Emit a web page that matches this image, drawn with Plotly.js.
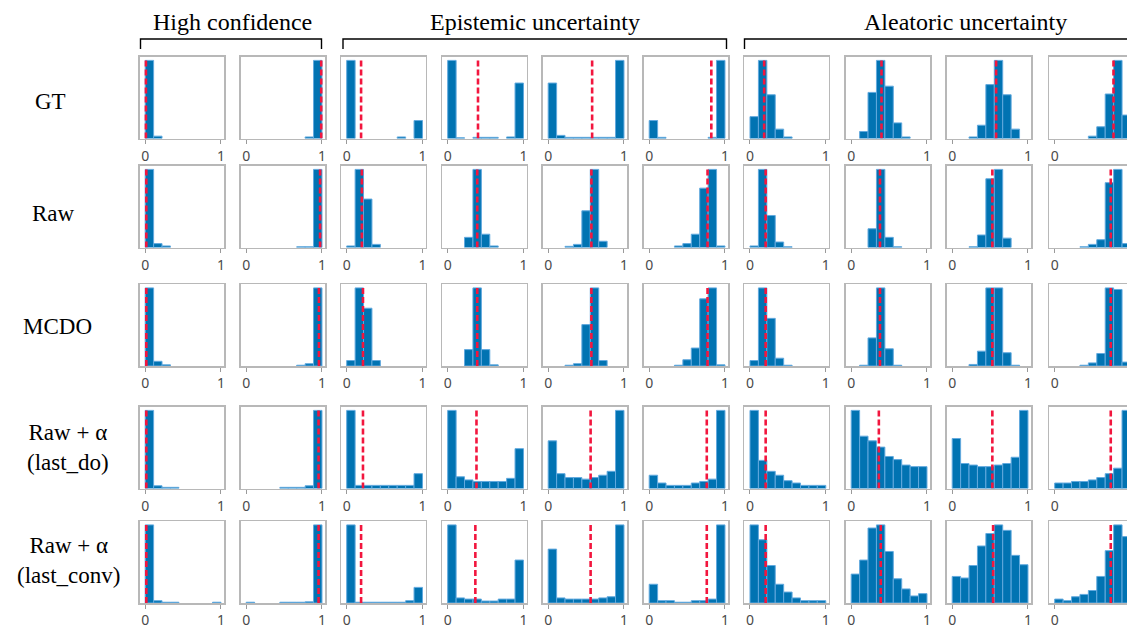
<!DOCTYPE html>
<html><head><meta charset="utf-8">
<script src="https://cdn.plot.ly/plotly-3.0.1.min.js"></script>
<style>html,body{margin:0;padding:0;overflow:hidden;background:#fff}#chart{width:1140px;height:628px}</style>
</head><body><div id="chart"></div>
<script>
// ---- data ----
const binCenters = [0.0556, 0.1667, 0.2778, 0.3889, 0.5, 0.6111, 0.7222, 0.8333, 0.9444];
const tickVals = [0, 1];
const tickLabels = ['0', '1'];
const rowLabels = ['GT', 'Raw', 'MCDO', 'Raw + α<br>(last_do)', 'Raw + α<br>(last_conv)'];
const groupTitles = ['High confidence', 'Epistemic uncertainty', 'Aleatoric uncertainty'];

const gtCounts = [
  [100,3,0,0,0,0,0,0,0],
  [0,0,0,0,0,0,0,2,100],
  [100,0,0,0,0,0,2,0,23],
  [100,1,0,1.5,1.5,1.5,0,2,71],
  [71,4,1.5,1.5,1.5,1.5,1.5,1.5,100],
  [23,1.5,0,0,0,0,0,1.5,100],
  [28,100,56,12,2,0,0,0,0],
  [0,9,59,100,67,20,2,0,0],
  [0,0,2,17,69,100,56,12,0],
  [0,0,0,0,3,15,57,100,30]
];
const gtMeans = [0.01, 0.99, 0.19, 0.40, 0.58, 0.82, 0.187, 0.40, 0.58, 0.776];

const rawCounts = [
  [100,5,2,0,0,0,0,0,0],
  [0,0,0,0,0,0,1,1,100],
  [2,100,62,4,0,0,0,0,0],
  [0,0,13,100,17,2,0,0,0],
  [0,0,1.5,4,47,100,8,0,0],
  [0,0,0,2,5,17,76,100,2],
  [2,100,41,7,1,0,0,0,0],
  [0,0,24,100,13,1,0,0,0],
  [0,0,1,16,88,100,12,0,0],
  [0,0,0,1,4,10,83,100,5]
];
const rawMeans = [0.015, 0.975, 0.20, 0.39, 0.57, 0.77, 0.207, 0.38, 0.53, 0.74];

const mcdoCounts = [
  [100,6,1.5,0,0,0,0,0,0],
  [0,0,0,0,0,0,1,3,100],
  [7,100,74,7,0,0,0,0,0],
  [0,0,21,100,21,1.5,0,0,0],
  [0,0,1,3,53,100,7,0,0],
  [0,0,0,1,8,23,86,100,1.5],
  [7,100,61,10,1,0,0,0,0],
  [0,1,36,100,22,1,0,0,0],
  [0,0,2,19,100,100,17,1,0],
  [0,0,0,1,4,16,100,98,5]
];
const mcdoMeans = [0.015, 0.96, 0.215, 0.39, 0.57, 0.77, 0.207, 0.38, 0.53, 0.74];

const lastDoCounts = [
  [100,3.5,1.5,1.5,0,0,0,0,0],
  [0,0,0,0,1.5,1.5,1.5,3.5,100],
  [100,4,4,4,4,4,4,4,19],
  [100,15,11,9,9,9,9,13,51],
  [61,19,14,14,12,14,17,22,100],
  [17,7,4,4,4,7,9,12,100],
  [100,36,22,17,10,7,4,4,4],
  [100,67,61,53,41,37,30,28,28],
  [64,32,30,28,28,30,32,40,100],
  [7,7,9,9,11,14,19,26,100]
];
const lastDoMeans = [0.015, 0.955, 0.215, 0.38, 0.56, 0.76, 0.207, 0.365, 0.53, 0.74];

const lastConvCounts = [
  [100,3,1,1,0,0,0,0,1],
  [1,0,0,0,1,1,1,1.5,100],
  [100,1,1,1,1,1,1,3,20],
  [100,6.5,5,5,2.5,2.5,5,5,55],
  [69,6.5,5,5,5,5,6.5,8,100],
  [24,3,3,1,1,3,3,5,100],
  [100,81,48,24,14,6.5,3,3,3],
  [37,55,96,100,66,31,18,9,12],
  [34,32,48,73,89,100,93,61,49],
  [5,3,8,11,16,34,67,100,85]
];
const lastConvMeans = [0.015, 0.955, 0.19, 0.365, 0.56, 0.76, 0.207, 0.39, 0.54, 0.74];

const allCounts = [gtCounts, rawCounts, mcdoCounts, lastDoCounts, lastConvCounts];
const allMeans = [gtMeans, rawMeans, mcdoMeans, lastDoMeans, lastConvMeans];

// ---- layout geometry (px) ----
const W = 1140, H = 628;
const colLeft = [139.5, 240.5, 341, 442, 542.5, 643.5, 744.3, 845.5, 946.5, 1049];
const boxW = 84.5;
const rowTop = [56.5, 165.5, 284, 406.5, 521];
const boxH = 82;
const px = v => v / W;
const py = v => 1 - v / H;

const traces = [];
const layout = {
  width: W, height: H, autosize: false,
  margin: {l: 0, r: 0, t: 0, b: 0},
  paper_bgcolor: '#ffffff', plot_bgcolor: '#ffffff',
  showlegend: false,
  annotations: [], shapes: []
};

for (let r = 0; r < 5; r++) {
  for (let c = 0; c < 10; c++) {
    const idx = r * 10 + c + 1;
    const sfx = idx === 1 ? '' : String(idx);
    const counts = allCounts[r][c];
    const ymax = Math.max(...counts);
    traces.push({
      type: 'bar', x: binCenters, y: counts.map(v => (v > 0 ? v : null)), width: 1 / 9,
      marker: {color: '#0173b2', line: {color: '#62a9de', width: 1}},
      xaxis: 'x' + sfx, yaxis: 'y' + sfx, hoverinfo: 'skip'
    });
    const m = allMeans[r][c];
    traces.push({
      type: 'scatter', mode: 'lines', x: [m, m], y: [0, ymax],
      line: {color: '#f2163e', width: 2.6, dash: '6px,3px'},
      xaxis: 'x' + sfx, yaxis: 'y' + sfx, hoverinfo: 'skip'
    });
    const isLast = c === 9;
    layout['xaxis' + sfx] = {
      domain: [px(colLeft[c]), px(colLeft[c] + boxW)],
      range: [-0.075, 1.04], anchor: 'y' + sfx,
      tickvals: tickVals, ticktext: isLast ? [tickLabels[0], ''] : tickLabels,
      ticks: 'outside', ticklen: 4, tickwidth: 1, tickcolor: '#9a9a9a',
      ticklabelstandoff: 0,
      tickfont: {family: 'Noto Sans, DejaVu Sans, sans-serif', size: 14, color: '#4a4a4a'},
      showline: true, mirror: true, linecolor: '#b8b8b8', linewidth: 1.5,
      showgrid: false, zeroline: false, fixedrange: true
    };
    layout['yaxis' + sfx] = {
      domain: [py(rowTop[r] + boxH), py(rowTop[r])],
      range: [0, ymax * 1.05], anchor: 'x' + sfx,
      showticklabels: false, ticks: '',
      showline: true, mirror: true, linecolor: '#b8b8b8', linewidth: 1.5,
      showgrid: false, zeroline: false, fixedrange: true
    };
  }
}

// group headers and brackets
const groups = [
  {x0: 140.5, x1: 321.5, cx: 232},
  {x0: 343, x1: 726.5, cx: 535},
  {x0: 744.5, x1: 1185, cx: 965}
];
groups.forEach((g, i) => {
  layout.annotations.push({
    text: groupTitles[i], xref: 'paper', yref: 'paper',
    x: px(g.cx), y: py(22), xanchor: 'center', yanchor: 'middle', showarrow: false,
    font: {family: 'Liberation Serif, Times New Roman, serif', size: 24, color: '#000'}
  });
  layout.shapes.push({
    type: 'path', xref: 'paper', yref: 'paper',
    path: `M ${px(g.x0)} ${py(49)} L ${px(g.x0)} ${py(39)} L ${px(g.x1)} ${py(39)} L ${px(g.x1)} ${py(49)}`,
    line: {color: '#000', width: 1.4}
  });
});

// row labels
const rowLabelPos = [[50, 102], [53, 213], [57, 326], [68, 448], [68, 560]];
rowLabels.forEach((t, i) => {
  layout.annotations.push({
    text: t, xref: 'paper', yref: 'paper',
    x: px(rowLabelPos[i][0]), y: py(rowLabelPos[i][1]),
    xanchor: 'center', yanchor: 'middle', showarrow: false, align: 'center',
    font: {family: 'Liberation Serif, Times New Roman, serif', size: 23, color: '#000'}
  });
});

Plotly.newPlot('chart', traces, layout, {staticPlot: true, displayModeBar: false});
</script>
</body></html>
